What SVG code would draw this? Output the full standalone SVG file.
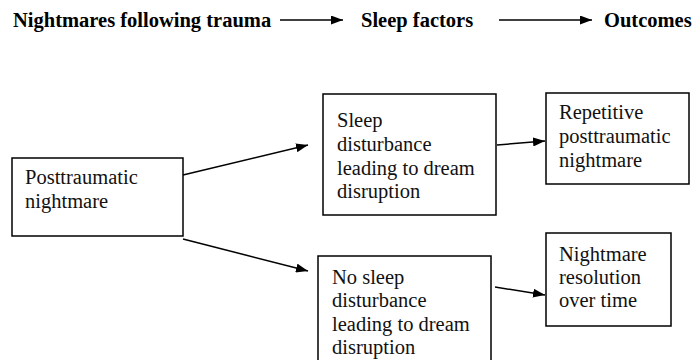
<svg xmlns="http://www.w3.org/2000/svg" width="695" height="360" viewBox="0 0 695 360">
<style>
.t{font-family:'Liberation Serif','Times New Roman',serif;font-size:20.5px;fill:#111}
.h{font-family:'Liberation Serif','Times New Roman',serif;font-size:20.5px;font-weight:bold;fill:#000}
.box{fill:#fff;stroke:#000;stroke-width:1.5}
.c{stroke:#000;stroke-width:1.5;fill:none;marker-end:url(#ah)}
</style>
<defs>
<marker id="ah" markerUnits="userSpaceOnUse" markerWidth="13" markerHeight="9" refX="12" refY="4.5" orient="auto" viewBox="0 0 13 9">
<path d="M0,0 L12,4.5 L0,9 z" fill="#000"/>
</marker>
</defs>
<rect width="695" height="360" fill="#fff"/>
<g id="header">
<text class="h" x="13" y="27">Nightmares following trauma</text>
<text class="h" x="361" y="27">Sleep factors</text>
<text class="h" x="604" y="27">Outcomes</text>
</g>
<g id="connectors">
<line class="c" x1="280" y1="20" x2="343" y2="20"/>
<line class="c" x1="499" y1="20" x2="592" y2="20"/>
<line class="c" x1="183" y1="175" x2="308" y2="145"/>
<line class="c" x1="183" y1="239" x2="308" y2="271"/>
<line class="c" x1="497" y1="145" x2="545" y2="141"/>
<line class="c" x1="495" y1="287" x2="545" y2="295"/>
</g>
<g id="posttraumatic">
<rect class="box" x="12" y="158" width="171" height="78"/>
<text class="t" x="25" y="184">Posttraumatic</text>
<text class="t" x="25" y="208">nightmare</text>
</g>
<g id="sleep-disturbance">
<rect class="box" x="323" y="94" width="173" height="121"/>
<text class="t" x="337" y="127">Sleep</text>
<text class="t" x="337" y="151">disturbance</text>
<text class="t" x="337" y="175">leading to dream</text>
<text class="t" x="337" y="198">disruption</text>
</g>
<g id="repetitive">
<rect class="box" x="546" y="93" width="143" height="91"/>
<text class="t" x="559" y="119">Repetitive</text>
<text class="t" x="559" y="143">posttraumatic</text>
<text class="t" x="559" y="167">nightmare</text>
</g>
<g id="no-sleep-disturbance">
<rect class="box" x="318" y="256" width="173" height="108"/>
<text class="t" x="332" y="284">No sleep</text>
<text class="t" x="332" y="307">disturbance</text>
<text class="t" x="332" y="331">leading to dream</text>
<text class="t" x="332" y="354">disruption</text>
</g>
<g id="resolution">
<rect class="box" x="546" y="233" width="125" height="93"/>
<text class="t" x="559" y="261">Nightmare</text>
<text class="t" x="559" y="284">resolution</text>
<text class="t" x="559" y="307">over time</text>
</g>
</svg>
